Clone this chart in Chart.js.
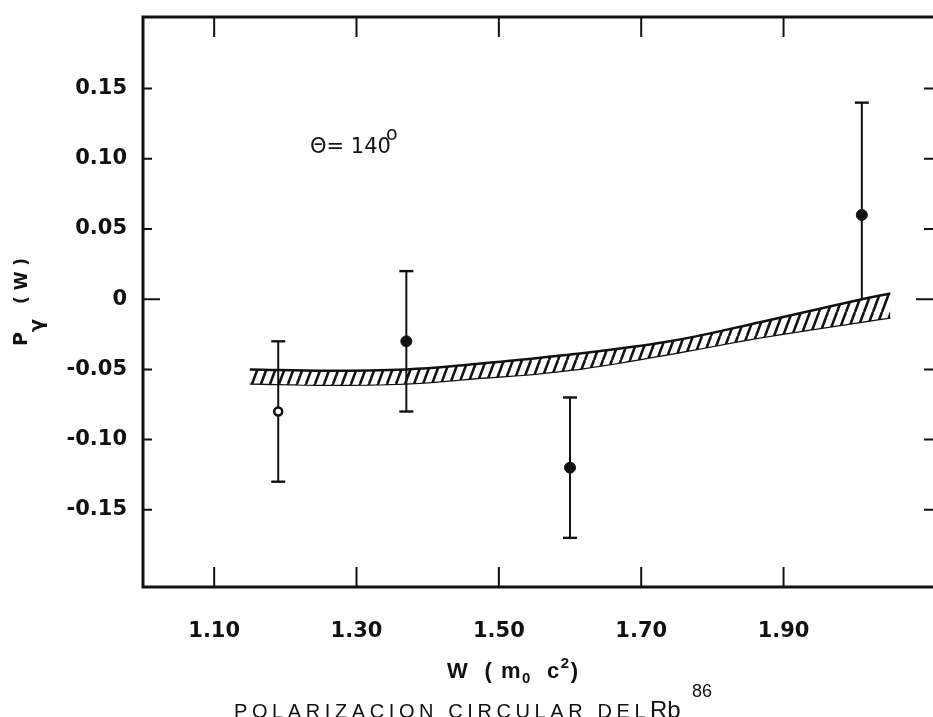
<!DOCTYPE html>
<html>
<head>
<meta charset="utf-8">
<script src="https://cdn.jsdelivr.net/npm/chart.js@4.4.1/dist/chart.umd.min.js"></script>
<style>
  html, body { margin: 0; padding: 0; background: #fff; }
  #wrap { width: 933px; height: 717px; }
</style>
</head>
<body>
<div id="wrap"><canvas id="polChart" width="933" height="717"></canvas></div>
<script>
// Circular polarization of the Rb-86 gamma vs. beta energy, theta = 140 deg
const energies = [1.19, 1.37, 1.60, 2.01];
const polarization = [-0.08, -0.03, -0.12, 0.06];
const errLow = [-0.13, -0.08, -0.17, 0.00];
const errHigh = [-0.03, 0.02, -0.07, 0.14];

// theoretical band (hatched)
const bandW = [1.15, 1.26, 1.37, 1.45, 1.59, 1.74, 1.87, 2.01, 2.05];
const bandUpper = [-0.050, -0.051, -0.050, -0.047, -0.040, -0.030, -0.016, 0.000, 0.004];
const bandLower = [-0.060, -0.061, -0.060, -0.057, -0.051, -0.039, -0.027, -0.016, -0.013];

const xTicks = [1.10, 1.30, 1.50, 1.70, 1.90];
const xTickLabels = ['1.10', '1.30', '1.50', '1.70', '1.90'];
const yTicks = [-0.15, -0.10, -0.05, 0, 0.05, 0.10, 0.15];
const yTickLabels = ['-0.15', '-0.10', '-0.05', '0', '0.05', '0.10', '0.15'];

const INK = '#111';

// steep diagonal hatch used for the band
function makeHatch() {
    const w = 9, h = 24;
    const c = document.createElement('canvas');
    c.width = w; c.height = h;
    const g = c.getContext('2d');
    g.fillStyle = '#fff';
    g.fillRect(0, 0, w, h);
    g.strokeStyle = INK;
    g.lineWidth = 2.6;
    for (const dx of [-w, 0, w]) {
        g.beginPath();
        g.moveTo(dx, h);
        g.lineTo(dx + w, 0);
        g.stroke();
    }
    return g.createPattern(c, 'repeat');
}

// frame, inward ticks and the loose text of the figure
const figurePlugin = {
    id: 'figure',
    afterDraw(chart) {
        const { ctx, chartArea: a, scales: { x, y } } = chart;
        ctx.save();
        ctx.strokeStyle = INK;
        ctx.lineWidth = 3;
        ctx.beginPath();
        ctx.moveTo(a.right, a.top);
        ctx.lineTo(a.left, a.top);
        ctx.lineTo(a.left, a.bottom);
        ctx.lineTo(a.right, a.bottom);
        ctx.stroke();

        ctx.lineWidth = 2;
        ctx.beginPath();
        xTicks.forEach(v => {
            const px = x.getPixelForValue(v);
            ctx.moveTo(px, a.bottom); ctx.lineTo(px, a.bottom - 20);
            ctx.moveTo(px, a.top); ctx.lineTo(px, a.top + 20);
        });
        yTicks.forEach(v => {
            const py = y.getPixelForValue(v);
            const len = v === 0 ? 17 : 9;
            ctx.moveTo(a.left, py); ctx.lineTo(a.left + len, py);
            ctx.moveTo(a.right, py); ctx.lineTo(a.right - len, py);
        });
        ctx.stroke();

        ctx.fillStyle = INK;
        ctx.textBaseline = 'alphabetic';
        ctx.textAlign = 'left';

        // theta annotation
        ctx.font = '21px "DejaVu Sans"';
        ctx.fillText('\u0398= 140', 310, 153);
        ctx.font = '19px "DejaVu Sans"';
        ctx.fillText('o', 386, 140);

        // y axis title, reading upward
        ctx.save();
        ctx.translate(27, 346);
        ctx.rotate(-Math.PI / 2);
        ctx.font = 'bold 19px "DejaVu Sans"';
        ctx.fillText('P', 0, 0);
        ctx.font = 'bold 19px "DejaVu Sans"';
        ctx.fillText('\u03B3', 14, 16);
        ctx.font = 'bold 17px "DejaVu Sans"';
        ctx.fillText('( W )', 42, 0);
        ctx.restore();

        // x axis title
        let cx = 447;
        const part = (t, dy, font) => {
            ctx.font = font;
            ctx.fillText(t, cx, 678 + dy);
            cx += ctx.measureText(t).width;
        };
        const f1 = 'bold 22px "Liberation Sans Narrow", "Liberation Sans"';
        const f2 = 'bold 15px "Liberation Sans Narrow", "Liberation Sans"';
        ctx.letterSpacing = '1.5px';
        part('W  ( m', 0, f1);
        part('0', 5, f2);
        part('  c', 0, f1);
        part('2', -10, f2);
        part(')', 0, f1);

        // caption
        ctx.font = '20px "Liberation Sans"';
        ctx.letterSpacing = '4.6px';
        ctx.fillText('POLARIZACION CIRCULAR DEL', 234, 718);
        ctx.letterSpacing = '0px';
        ctx.font = '24px "Liberation Sans"';
        ctx.fillText('Rb', 650, 718);
        ctx.font = '18px "Liberation Sans"';
        ctx.fillText('86', 692, 697);
        ctx.restore();
    }
};

const tickFont = { family: 'DejaVu Sans', weight: 'bold', size: 21 };

const errorBarSets = energies.map((w, i) => ({
    type: 'line',
    data: [{ x: w, y: errLow[i] }, { x: w, y: errHigh[i] }],
    borderColor: INK,
    borderWidth: 2,
    pointStyle: 'line',
    pointRadius: i === 3 ? [0, 7] : 7,
    pointBorderWidth: 2.4,
    pointBorderColor: INK
}));

new Chart(document.getElementById('polChart'), {
    type: 'scatter',
    data: {
        datasets: [
            {
                data: energies.map((w, i) => ({ x: w, y: polarization[i] })),
                pointRadius: [4, 5.5, 5.5, 5.5],
                pointBackgroundColor: ['#fff', INK, INK, INK],
                pointBorderColor: INK,
                pointBorderWidth: [2.5, 1, 1, 1],
                showLine: false
            },
            ...errorBarSets,
            {
                type: 'line',
                data: bandW.map((w, i) => ({ x: w, y: bandUpper[i] })),
                borderColor: INK,
                borderWidth: 2.5,
                pointRadius: 0,
                tension: 0.4,
                fill: '+1',
                backgroundColor: makeHatch()
            },
            {
                type: 'line',
                data: bandW.map((w, i) => ({ x: w, y: bandLower[i] })),
                borderColor: INK,
                borderWidth: 2.5,
                pointRadius: 0,
                tension: 0.4,
                fill: false
            }
        ]
    },
    options: {
        responsive: false,
        animation: false,
        layout: { autoPadding: false, padding: { top: 17, left: 0, right: 0, bottom: 0 } },
        plugins: { legend: { display: false }, tooltip: { enabled: false } },
        scales: {
            x: {
                type: 'linear',
                min: 1.0,
                max: 2.11,
                afterFit(s) {
                    s.height = 130;
                    s.paddingLeft = 0; s.paddingRight = 0;
                },
                afterBuildTicks(s) { s.ticks = xTicks.map(v => ({ value: v })); },
                ticks: {
                    callback: (v, i) => xTickLabels[i],
                    font: tickFont,
                    color: INK,
                    padding: 32,
                    maxRotation: 0,
                    autoSkip: false
                },
                grid: { display: false, drawTicks: false },
                border: { display: false }
            },
            y: {
                min: -0.205,
                max: 0.201,
                afterFit(s) {
                    s.width = 143;
                    s.paddingTop = 0; s.paddingBottom = 0;
                },
                afterBuildTicks(s) { s.ticks = yTicks.map(v => ({ value: v })); },
                ticks: {
                    callback: (v, i) => yTickLabels[i],
                    font: tickFont,
                    color: INK,
                    padding: 16,
                    autoSkip: false
                },
                grid: { display: false, drawTicks: false },
                border: { display: false }
            }
        }
    },
    plugins: [figurePlugin]
});
</script>
</body>
</html>
